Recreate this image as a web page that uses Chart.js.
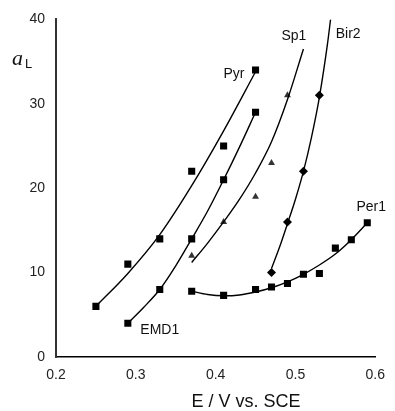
<!DOCTYPE html>
<html>
<head>
<meta charset="utf-8">
<script src="https://cdn.jsdelivr.net/npm/chart.js@4.4.1/dist/chart.umd.min.js"></script>
<style>
  html, body { margin: 0; padding: 0; background: #fff; }
  canvas { display: block; }
</style>
</head>
<body>
<canvas id="chart" width="395" height="411"></canvas>
<script>
// measured points
const pyrE = [0.25, 0.29, 0.33, 0.37, 0.41, 0.45];
const pyrA = [6, 11, 14, 22, 25, 34];
const emdE = [0.29, 0.33, 0.37, 0.41, 0.45];
const emdA = [4, 8, 14, 21, 29];
const sp1E = [0.37, 0.41, 0.45, 0.47, 0.49];
const sp1A = [12, 16, 19, 23, 31];
const bir2E = [0.47, 0.49, 0.51, 0.53];
const bir2A = [10, 16, 22, 31];
const per1E = [0.37, 0.41, 0.45, 0.47, 0.49, 0.51, 0.53, 0.55, 0.57, 0.59];
const per1A = [7.8, 7.3, 8, 8.3, 8.7, 9.8, 9.9, 12.9, 13.9, 15.9];

// trend curves
const pyrFitE = [0.25, 0.29, 0.33, 0.37, 0.41, 0.45];
const pyrFitA = [6, 9.9, 14.5, 20.3, 26.8, 33.8];
const emdFitE = [0.29, 0.31, 0.33, 0.35, 0.37, 0.39, 0.41, 0.43, 0.45];
const emdFitA = [4, 5.9, 8, 10.8, 14, 17.3, 21, 24.9, 29];
const sp1FitE = [0.37, 0.39, 0.41, 0.43, 0.45, 0.47, 0.49, 0.51];
const sp1FitA = [11.2, 13.5, 16, 18.7, 21.8, 25.5, 30.5, 36.5];
const bir2FitE = [0.47, 0.48, 0.49, 0.50, 0.51, 0.52, 0.53, 0.54, 0.544];
const bir2FitA = [10.5, 13, 15.8, 18.7, 22, 26, 30.8, 37, 40];
const per1FitE = [0.37, 0.39, 0.41, 0.43, 0.45, 0.47, 0.49, 0.51, 0.53, 0.55, 0.57, 0.59];
const per1FitA = [7.8, 7.4, 7.25, 7.35, 7.7, 8.2, 8.9, 9.8, 10.9, 12.2, 13.9, 15.9];

const xTicks = [0.2, 0.3, 0.4, 0.5, 0.6];
const yTicks = [0, 10, 20, 30, 40];

const seriesNames = ["Pyr", "Sp1", "Bir2", "Per1", "EMD1"];
const nameE = [0.423, 0.498, 0.566, 0.595, 0.330];
const nameA = [33.5, 38.0, 38.2, 17.8, 3.2];

const toXY = (xs, ys) => xs.map((x, i) => ({x: x, y: ys[i]}));

const pointSet = (xs, ys, style, r, color) => ({
  data: toXY(xs, ys),
  showLine: false,
  pointStyle: style,
  pointRadius: r,
  pointBackgroundColor: color,
  pointBorderColor: color,
  pointBorderWidth: 0
});

const curveSet = (xs, ys) => ({
  data: toXY(xs, ys),
  showLine: true,
  borderColor: "#000",
  borderWidth: 1.4,
  pointRadius: 0,
  cubicInterpolationMode: "monotone",
  fill: false
});

const labelsPlugin = {
  id: "labels",
  afterDraw(chart) {
    const ctx = chart.ctx;
    const xs = chart.scales.x, ys = chart.scales.y;
    ctx.save();
    ctx.fillStyle = "#111";
    ctx.font = "14px 'Liberation Sans', Arial, sans-serif";
    ctx.textAlign = "center";
    ctx.textBaseline = "middle";
    seriesNames.forEach((n, i) => {
      ctx.fillText(n, xs.getPixelForValue(nameE[i]), ys.getPixelForValue(nameA[i]));
    });
    // x axis title
    ctx.font = "18px 'Liberation Sans', Arial, sans-serif";
    ctx.fillText("E / V vs. SCE", 246, 402);
    // y axis title: italic a with subscript L
    ctx.textAlign = "left";
    ctx.textBaseline = "alphabetic";
    ctx.font = "italic 22px 'Liberation Serif', 'Times New Roman', serif";
    ctx.fillText("a", 12, 65);
    ctx.font = "13px 'Liberation Sans', Arial, sans-serif";
    ctx.fillText("L", 25, 68);
    ctx.restore();
  }
};

new Chart(document.getElementById("chart"), {
  type: "scatter",
  data: {
    datasets: [
      curveSet(pyrFitE, pyrFitA),
      curveSet(emdFitE, emdFitA),
      curveSet(sp1FitE, sp1FitA),
      curveSet(bir2FitE, bir2FitA),
      curveSet(per1FitE, per1FitA),
      pointSet(pyrE, pyrA, "rect", 5, "#000"),
      pointSet(emdE, emdA, "rect", 5, "#000"),
      pointSet(sp1E, sp1A, "triangle", 4, "#333"),
      pointSet(bir2E, bir2A, "rectRot", 4.5, "#000"),
      pointSet(per1E, per1A, "rect", 5, "#000")
    ]
  },
  options: {
    responsive: false,
    animation: false,
    devicePixelRatio: 1,
    layout: { padding: { left: 0, top: 17, right: 14, bottom: 0 } },
    plugins: { legend: { display: false }, tooltip: { enabled: false } },
    scales: {
      x: {
        type: "linear",
        min: 0.2,
        max: 0.6,
        afterFit: (s) => { s.height = 54; },
        afterBuildTicks: (s) => { s.ticks = xTicks.map(v => ({value: v})); },
        grid: { display: false, drawTicks: false },
        border: { display: true, color: "#000", width: 1.5 },
        ticks: {
          padding: 10,
          color: "#222",
          font: { family: "'Liberation Sans', Arial, sans-serif", size: 14 },
          callback: (v) => v.toFixed(1)
        }
      },
      y: {
        type: "linear",
        min: 0,
        max: 40,
        afterFit: (s) => { s.width = 56; },
        afterBuildTicks: (s) => { s.ticks = yTicks.map(v => ({value: v})); },
        grid: { display: false, drawTicks: false },
        border: { display: true, color: "#333", width: 2 },
        ticks: {
          padding: 11,
          color: "#222",
          font: { family: "'Liberation Sans', Arial, sans-serif", size: 14 },
          callback: (v) => String(v)
        }
      }
    }
  },
  plugins: [labelsPlugin]
});
</script>
</body>
</html>
